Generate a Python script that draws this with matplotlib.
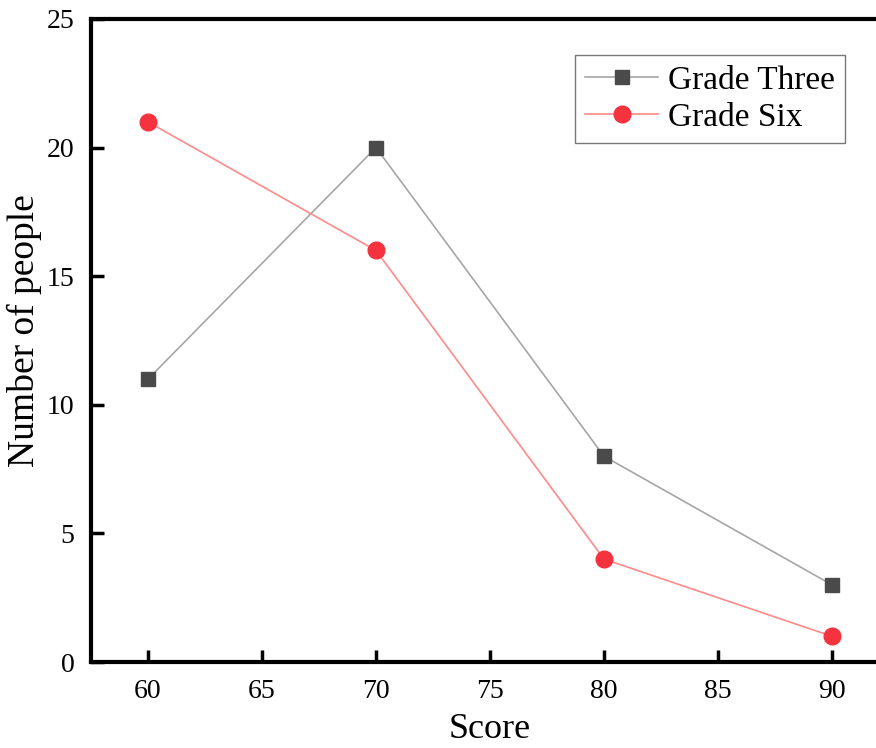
import matplotlib
matplotlib.use("Agg")
import matplotlib.pyplot as plt

scores = [60, 70, 80, 90]
grade_three = [11, 20, 8, 3]
grade_six = [21, 16, 4, 1]

plt.rcParams['font.family'] = ['Liberation Serif', 'DejaVu Serif']

fig = plt.figure(figsize=(8.76, 7.48), dpi=100)
ax = fig.add_axes([91 / 876, 86 / 748, 798 / 876, 643 / 748])

ax.plot(scores, grade_three, color='#a6a6a6', lw=1.2, marker='s', ms=10,
        mfc='#4a4a4a', mec='#4a4a4a', label='Grade Three')
ax.plot(scores, grade_six, color='#ff8a8a', lw=1.2, marker='o', ms=12,
        mfc='#f5333f', mec='#f5333f', label='Grade Six')

ax.set_xlim(57.5, 92.5)
ax.set_ylim(0, 25)
ax.set_xticks([60, 65, 70, 75, 80, 85, 90])
ax.set_yticks([0, 5, 10, 15, 20, 25])

for s in ax.spines.values():
    s.set_linewidth(3)
ax.tick_params(direction='in', length=9, width=2.5, labelsize=20, pad=12)

ax.set_xlabel('Score', fontsize=26, labelpad=7)
ax.set_ylabel('Number of people', fontsize=27)
ax.yaxis.set_label_coords(-0.062, 0.516)

leg = ax.legend(loc='upper left', bbox_to_anchor=(0.6065, 0.944), fontsize=24,
                fancybox=False, edgecolor='#777777', framealpha=1,
                handlelength=2.2, borderpad=0.3, labelspacing=0.2,
                handletextpad=0.3, borderaxespad=0)
leg.get_frame().set_linewidth(1.0)

fig.savefig('out.png', dpi=100)
